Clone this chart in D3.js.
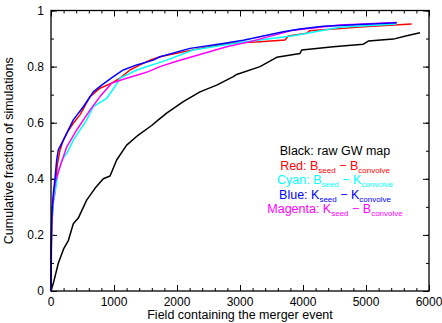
<!DOCTYPE html>
<html>
<head>
<meta charset="utf-8">
<script src="https://cdn.jsdelivr.net/npm/d3@7"></script>
<style>
  body { margin: 0; background: #fff; }
  text { font-family: "Liberation Sans", Arial, sans-serif; }
</style>
</head>
<body>
<svg width="442" height="323"></svg>
<script>
// cumulative curves, [field, fraction]
var black = [[0,0],[40,0.03],[116,0.099],[200,0.15],[275,0.18],[354,0.24],[433,0.26],[566,0.324],[698,0.366],[830,0.40],[937,0.41],
  [1042,0.467],[1201,0.52],[1386,0.556],[1598,0.59],[1704,0.61],[1836,0.634],[2100,0.675],[2365,0.71],[2630,0.734],
  [2894,0.764],[2947,0.772],[3317,0.80],[3582,0.833],[3952,0.847],[3979,0.859],[4481,0.871],[4958,0.88],[5037,0.891],
  [5434,0.898],[5646,0.91],[5857,0.921]];
var red = [[0,0],[4,0.15],[14,0.25],[35,0.32],[63,0.35],[100,0.45],[140,0.50],[196,0.538],[270,0.57],[354,0.598],[460,0.628],
  [619,0.693],[778,0.723],[963,0.741],[1095,0.759],[1254,0.788],[1413,0.806],[1571,0.823],[1730,0.835],[2365,0.865],
  [2841,0.883],[3317,0.889],[3714,0.895],[3767,0.909],[4058,0.919],[4111,0.928],[4958,0.942],[5725,0.952]];
var cyan = [[0,0],[6,0.15],[18,0.25],[40,0.32],[63,0.35],[120,0.43],[180,0.47],[249,0.49],[354,0.538],[566,0.61],[671,0.657],
  [884,0.687],[1016,0.729],[1095,0.759],[1360,0.788],[1836,0.823],[2259,0.859],[3000,0.886],[3846,0.91],[4587,0.94],[5487,0.952]];
var blue = [[0,0],[3,0.15],[10,0.25],[21,0.30],[37,0.348],[63,0.40],[90,0.467],[116,0.503],[196,0.538],[354,0.61],[513,0.657],
  [671,0.71],[804,0.734],[989,0.764],[1148,0.788],[1360,0.806],[1624,0.823],[1730,0.835],[2206,0.865],[2630,0.879],
  [3053,0.894],[3688,0.924],[3952,0.934],[4323,0.944],[5487,0.956]];
var magenta = [[0,0],[8,0.20],[25,0.30],[63,0.385],[143,0.443],[249,0.513],[408,0.574],[619,0.645],[778,0.693],[963,0.741],
  [1148,0.755],[1400,0.772],[1545,0.782],[1730,0.80],[1968,0.817],[2418,0.847],[2788,0.871],[3159,0.889],[3846,0.93],
  [4587,0.948],[5487,0.957]];

var series = [
  {name: "black", color: "#000000", values: black},
  {name: "red", color: "#ff0000", values: red},
  {name: "cyan", color: "#00ffff", values: cyan},
  {name: "magenta", color: "#ff00ff", values: magenta},
  {name: "blue", color: "#0000ff", values: blue}
];

var xTicks = [0, 1000, 2000, 3000, 4000, 5000, 6000];
var yTicks = [0, 0.2, 0.4, 0.6, 0.8, 1];
var legend = [
  {color: "#000000", parts: [["Black: raw GW map", 0]]},
  {color: "#ff0000", parts: [["Red: B", 0], ["seed", 1], [" \u2212 B", 0], ["convolve", 1]]},
  {color: "#00ffff", parts: [["Cyan: B", 0], ["seed", 1], [" \u2212 K", 0], ["convolve", 1]]},
  {color: "#0000ff", parts: [["Blue: K", 0], ["seed", 1], [" \u2212 K", 0], ["convolve", 1]]},
  {color: "#ff00ff", parts: [["Magenta: K", 0], ["seed", 1], [" \u2212 B", 0], ["convolve", 1]]}
];

var svg = d3.select("svg"),
    margin = {top: 10.5, right: 13, bottom: 32, left: 51},
    width = 442 - margin.left - margin.right,
    height = 323 - margin.top - margin.bottom;

var g = svg.append("g").attr("transform", "translate(" + margin.left + "," + margin.top + ")");

var x = d3.scaleLinear().domain([0, 6000]).range([0, width]);
var y = d3.scaleLinear().domain([0, 1]).range([height, 0]);

// minor + major ticks on all four sides, pointing in
var minorX = d3.range(0, 6001, 200), minorY = d3.range(0, 1.001, 0.1);
function tickSet(axis, vals, len) {
  return axis.tickValues(vals).tickSize(-len).tickFormat("");
}
g.append("g").attr("transform", "translate(0," + height + ")").call(tickSet(d3.axisBottom(x), minorX, 3));
g.append("g").call(tickSet(d3.axisTop(x), minorX, 3));
g.append("g").call(tickSet(d3.axisLeft(y), minorY, 3));
g.append("g").attr("transform", "translate(" + width + ",0)").call(tickSet(d3.axisRight(y), minorY, 3));
g.append("g").attr("transform", "translate(0," + height + ")").call(tickSet(d3.axisBottom(x), xTicks, 6));
g.append("g").call(tickSet(d3.axisTop(x), xTicks, 6));
g.append("g").call(tickSet(d3.axisLeft(y), yTicks, 6));
g.append("g").attr("transform", "translate(" + width + ",0)").call(tickSet(d3.axisRight(y), yTicks, 6));
g.selectAll(".domain").remove();
g.selectAll(".tick line").attr("stroke", "#000").attr("stroke-width", 1);

// tick labels
g.selectAll(".xlab").data(xTicks).enter().append("text")
  .attr("x", function(d) { return x(d); }).attr("y", height + 15)
  .attr("text-anchor", "middle").attr("font-size", 12).text(function(d) { return d; });
g.selectAll(".ylab").data(yTicks).enter().append("text")
  .attr("x", -7).attr("y", function(d) { return y(d) + 4; })
  .attr("text-anchor", "end").attr("font-size", 12).text(function(d) { return d; });

var line = d3.line().x(function(d) { return x(d[0]); }).y(function(d) { return y(d[1]); });

g.selectAll(".curve").data(series).enter().append("path")
  .attr("fill", "none").attr("stroke", function(d) { return d.color; })
  .attr("stroke-width", 1.5).attr("stroke-linejoin", "round")
  .attr("d", function(d) { return line(d.values); });

// frame
g.append("rect").attr("width", width).attr("height", height)
  .attr("fill", "none").attr("stroke", "#000").attr("stroke-width", 1.3);

// axis titles
svg.append("text").attr("x", margin.left + width / 2).attr("y", 319)
  .attr("text-anchor", "middle").attr("font-size", 12.5).text("Field containing the merger event");
svg.append("text").attr("transform", "translate(13," + (margin.top + height / 2) + ") rotate(-90)")
  .attr("text-anchor", "middle").attr("font-size", 12.5).text("Cumulative fraction of simulations");

// legend
var leg = svg.append("g");
legend.forEach(function(row, i) {
  var t = leg.append("text").attr("x", 335).attr("y", 155 + i * 14.5)
    .attr("text-anchor", "middle").attr("font-size", 12.5).attr("fill", row.color);
  row.parts.forEach(function(p, j) {
    var prev = row.parts[j - 1];
    var dy = (p[1] ? 3 : 0) - (prev && prev[1] ? 3 : 0);
    t.append("tspan").attr("font-size", p[1] ? 8 : 12.5).attr("dy", dy).text(p[0]);
  });
});
</script>
</body>
</html>
